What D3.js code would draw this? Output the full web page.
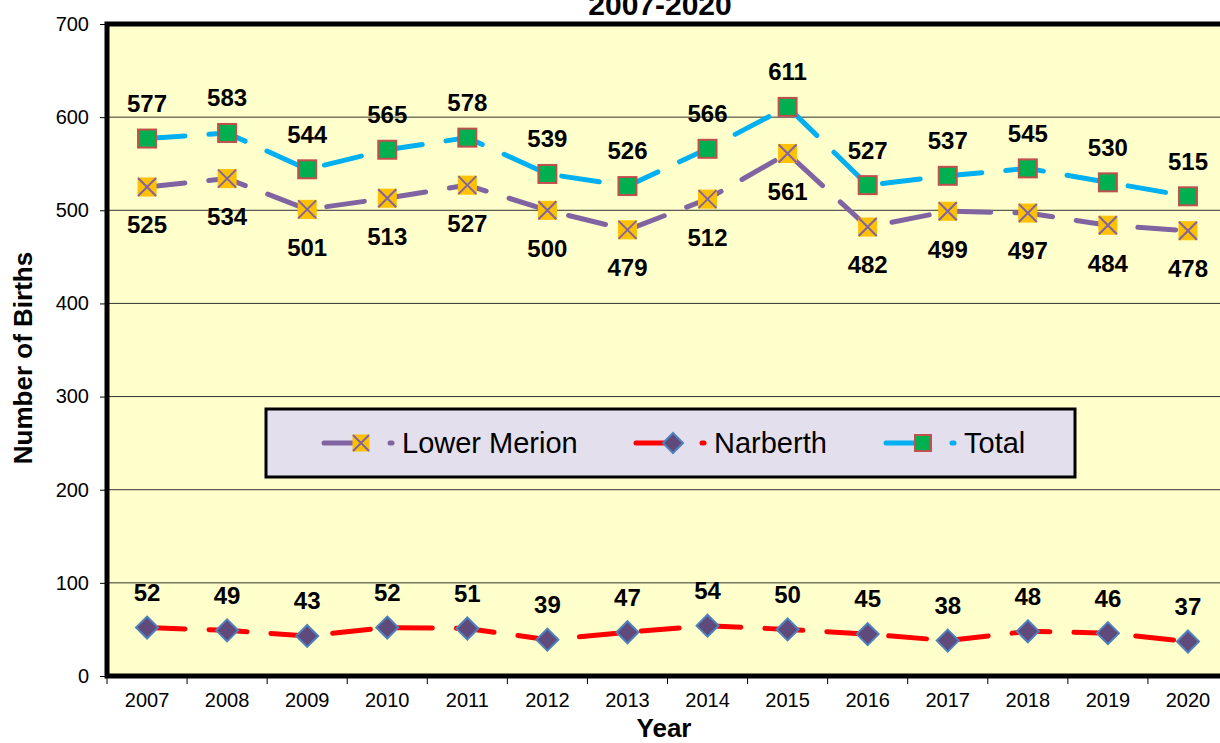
<!DOCTYPE html>
<html>
<head>
<meta charset="utf-8">
<script src="https://cdn.jsdelivr.net/npm/d3@7"></script>
<style>
  body { margin: 0; background: #fff; }
  svg { display: block; font-family: "Liberation Sans", Arial, sans-serif; }
</style>
</head>
<body>
<svg id="chart" width="1220" height="743"></svg>
<script>
// data
const years = ["2007", "2008", "2009", "2010", "2011", "2012", "2013", "2014", "2015", "2016", "2017", "2018", "2019", "2020"];
const lowerMerion = [525, 534, 501, 513, 527, 500, 479, 512, 561, 482, 499, 497, 484, 478];
const narberth = [52, 49, 43, 52, 51, 39, 47, 54, 50, 45, 38, 48, 46, 37];
const total = [577, 583, 544, 565, 578, 539, 526, 566, 611, 527, 537, 545, 530, 515];
const yTicks = [0, 100, 200, 300, 400, 500, 600, 700];

const series = [
    { name: "Lower Merion", values: lowerMerion, color: "#8064A2", marker: "xbox", labelDy: 38 },
    { name: "Narberth", values: narberth, color: "#FF0000", marker: "diamond", labelDy: -35 },
    { name: "Total", values: total, color: "#00B0F0", marker: "square", labelDy: -35 }
];

const margin = { top: 24, right: -8, bottom: 67, left: 107 };
const width = 1220 - margin.left - margin.right;   // plot runs slightly off the right edge
const height = 743 - margin.top - margin.bottom;
const fontFamily = '"Liberation Sans", Arial, sans-serif';

const svg = d3.select("#chart");
const g = svg.append("g").attr("transform", `translate(${margin.left},${margin.top})`);

const x = d3.scaleBand().domain(years).range([0, width]);
const y = d3.scaleLinear().domain([0, 700]).range([height, 0]);
const cx = d => x(d) + x.bandwidth() / 2;

// plot background
g.append("rect")
    .attr("width", width).attr("height", height)
    .attr("fill", "#FFFFCC");

// grid lines
g.append("g").selectAll("line")
    .data(yTicks.filter(t => t > 0 && t < 700))
    .enter().append("line")
    .attr("x1", 0).attr("x2", width)
    .attr("y1", d => y(d)).attr("y2", d => y(d))
    .attr("stroke", "#333").attr("stroke-width", 1);

// y axis
const yAxis = g.append("g")
    .attr("font-family", fontFamily)
    .call(d3.axisLeft(y).tickValues(yTicks).tickSize(7).tickPadding(11));
yAxis.select(".domain").remove();
yAxis.selectAll("text").attr("font-size", 20).attr("fill", "#000");

// x axis: ticks sit at the band edges
const xAxis = g.append("g").attr("transform", `translate(0,${height})`);
xAxis.selectAll("line")
    .data(d3.range(years.length + 1))
    .enter().append("line")
    .attr("x1", i => i * x.bandwidth()).attr("x2", i => i * x.bandwidth())
    .attr("y1", 0).attr("y2", 8)
    .attr("stroke", "#000");
xAxis.selectAll("text")
    .data(years)
    .enter().append("text")
    .attr("x", d => cx(d)).attr("y", 31)
    .attr("text-anchor", "middle")
    .attr("font-size", 20)
    .text(d => d);

// thick frame on left, top and bottom
g.append("path")
    .attr("d", `M${width + 10},0 L0,0 L0,${height} L${width + 10},${height}`)
    .attr("fill", "none").attr("stroke", "#000").attr("stroke-width", 5);

// markers
function drawMarker(sel, type, size) {
    const h = size / 2;
    if (type === "square") {
        sel.append("rect")
            .attr("x", -h).attr("y", -h).attr("width", size).attr("height", size)
            .attr("fill", "#00B050").attr("stroke", "#C0504D").attr("stroke-width", 2);
    } else if (type === "xbox") {
        sel.append("rect")
            .attr("x", -h).attr("y", -h).attr("width", size).attr("height", size)
            .attr("fill", "#FFC000").attr("stroke", "#FFC000").attr("stroke-width", 1);
        sel.append("path")
            .attr("d", `M${-h},${-h}L${h},${h}M${-h},${h}L${h},${-h}`)
            .attr("stroke", "#8064A2").attr("stroke-width", 2);
    } else {
        const r = h + 2;
        sel.append("path")
            .attr("d", `M0,${-r}L${r},0L0,${r}L${-r},0Z`)
            .attr("fill", "#604A7B").attr("stroke", "#4F81BD").attr("stroke-width", 2);
    }
}

const line = d3.line().x((d, i) => cx(years[i])).y(d => y(d));

series.forEach(s => {
    g.append("path")
        .datum(s.values)
        .attr("d", line)
        .attr("fill", "none")
        .attr("stroke", s.color)
        .attr("stroke-width", 5)
        .attr("stroke-linecap", "round")
        .attr("stroke-dasharray", "38,24");
});

series.forEach(s => {
    const pts = g.append("g").selectAll("g")
        .data(s.values)
        .enter().append("g")
        .attr("transform", (d, i) => `translate(${cx(years[i])},${y(d)})`);
    pts.each(function () { drawMarker(d3.select(this), s.marker, 18); });

    g.append("g").selectAll("text")
        .data(s.values)
        .enter().append("text")
        .attr("x", (d, i) => cx(years[i]))
        .attr("y", d => y(d) + s.labelDy)
        .attr("dy", "0.35em")
        .attr("text-anchor", "middle")
        .attr("font-size", 24)
        .attr("font-weight", "bold")
        .text(d => d);
});

// legend
const legend = svg.append("g").attr("transform", "translate(266,409)");
legend.append("rect")
    .attr("width", 809).attr("height", 68)
    .attr("fill", "#E4DFEC").attr("stroke", "#000").attr("stroke-width", 3);

const legendX = [58, 370, 620];
series.forEach((s, i) => {
    const item = legend.append("g").attr("transform", `translate(${legendX[i]},34)`);
    item.append("line")
        .attr("x1", 0).attr("x2", 28)
        .attr("stroke", s.color).attr("stroke-width", 5).attr("stroke-linecap", "round");
    drawMarker(item.append("g").attr("transform", "translate(37,0)"), s.marker, 16);
    item.append("line")
        .attr("x1", 66).attr("x2", 68)
        .attr("stroke", s.color).attr("stroke-width", 5).attr("stroke-linecap", "round");
    item.append("text")
        .attr("x", 78).attr("dy", "0.35em")
        .attr("font-size", 29)
        .text(s.name);
});

// titles (chart title is clipped at the top edge, as in the reference)
svg.append("text")
    .attr("x", 660).attr("y", 15)
    .attr("text-anchor", "middle")
    .attr("font-size", 30).attr("font-weight", "bold")
    .text("2007-2020");

svg.append("text")
    .attr("x", 664).attr("y", 737)
    .attr("text-anchor", "middle")
    .attr("font-size", 26).attr("font-weight", "bold")
    .text("Year");

svg.append("text")
    .attr("transform", "translate(32,358) rotate(-90)")
    .attr("text-anchor", "middle")
    .attr("font-size", 26).attr("font-weight", "bold")
    .text("Number of Births");
</script>
</body>
</html>
